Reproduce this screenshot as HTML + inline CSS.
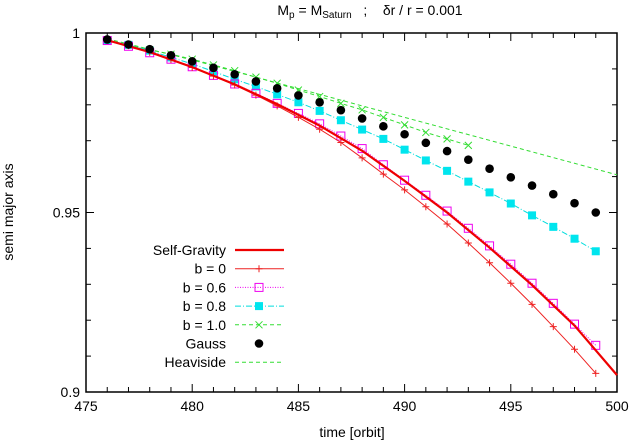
<!DOCTYPE html>
<html><head><meta charset="utf-8"><style>
body{margin:0;background:#fff;}
svg{display:block;font-family:"Liberation Sans",sans-serif;}
</style></head><body>
<svg id="chart" width="634" height="444">
<text x="370" y="15" text-anchor="middle" font-size="14" xml:space="preserve">M<tspan font-size="10" dy="3">p</tspan><tspan dy="-3"> = M</tspan><tspan font-size="10" dy="3">Saturn</tspan><tspan dy="-3">   ;    δr / r = 0.001</tspan></text>
<text transform="translate(13,212) rotate(-90)" text-anchor="middle" font-size="14">semi major axis</text>
<text x="352" y="437" text-anchor="middle" font-size="14">time [orbit]</text>
<g id="axes"></g>
<g id="series"></g>
<g id="legend"></g>
</svg>
<script>
const times=[476,477,478,479,480,481,482,483,484,485,486,487,488,489,490,491,492,493,494,495,496,497,498,499];
const gaussVals=[.9982,.9968,.9955,.9938,.9921,.9903,.9885,.9865,.9846,.9826,.9807,.9785,.9762,.974,.9718,.9694,.9671,.9647,.9622,.9598,.9575,.9551,.9526,.95];
const b08Vals=[.998,.9967,.9951,.9932,.9914,.9893,.9871,.9851,.9829,.9807,.9783,.9757,.9731,.9705,.9675,.9645,.9616,.9586,.9556,.9525,.9492,.946,.9427,.9392];
const b10Times=[476,477,478,479,480,481,482,483,484,485,486,487,488,489,490,491,492,493];
const b10Vals=[.998,.9967,.9953,.9941,.9927,.9911,.9895,.9877,.986,.9841,.9823,.9804,.9786,.9765,.9744,.9723,.9705,.9687];
const b06Vals=[.9979,.9963,.9945,.9927,.9906,.9882,.9858,.9832,.9804,.9776,.9747,.9713,.9678,.9633,.959,.9548,.9504,.9456,.9407,.9356,.9303,.9247,.9189,.913];
const b0Vals=[.998,.9965,.9946,.9926,.9904,.988,.9855,.9827,.9797,.9765,.9732,.9695,.9652,.9607,.9563,.9516,.9468,.9415,.936,.9303,.9244,.9182,.9119,.9052];
const sgTimes=[476,478,480,482,484,486,488,490,492,494,496,498,500];
const sgVals=[.998,.9947,.9905,.9857,.9802,.9742,.9672,.9588,.9500,.9402,.9298,.9185,.9047];
const hvTimes=[476,480,485,490,495,500];
const hvVals=[.9984,.9925,.9845,.9765,.9685,.9605];
const xTicks=[475,480,485,490,495,500];
const yTicks=[0.9,0.95,1];
const yTickLabels=["0.9","0.95","1"];

const L=86,R=617,T=33,B=392;
const X=t=>L+(t-475)/25*(R-L);
const Y=v=>T+(1-v)/0.1*(B-T);
const NS="http://www.w3.org/2000/svg";
function mk(tag,attrs,parent){const e=document.createElementNS(NS,tag);for(const k in attrs)e.setAttribute(k,attrs[k]);parent.appendChild(e);return e;}
const ax=document.getElementById('axes'),sr=document.getElementById('series'),lg=document.getElementById('legend');
const frame=mk('rect',{x:L,y:T,width:R-L,height:B-T,fill:'none',stroke:'#000','stroke-width':1.5},ax);


for(let t=475;t<=500;t++){const big=t%5===0?8:5;mk('line',{x1:X(t),x2:X(t),y1:B,y2:B-big,stroke:'#000'},ax);mk('line',{x1:X(t),x2:X(t),y1:T,y2:T+big,stroke:'#000'},ax);}
for(let i=0;i<=10;i++){const v=0.9+i*0.01;const big=i%5===0?8:5;mk('line',{x1:L,x2:L+big,y1:Y(v),y2:Y(v),stroke:'#000'},ax);mk('line',{x1:R,x2:R-big,y1:Y(v),y2:Y(v),stroke:'#000'},ax);}
xTicks.forEach(t=>{const e=mk('text',{x:X(t),y:B+19,'text-anchor':'middle','font-size':14},ax);e.textContent=t;

});
yTicks.forEach((v,i)=>{const e=mk('text',{x:L-6,y:Y(v)+5,'text-anchor':'end','font-size':14},ax);e.textContent=yTickLabels[i];

});

function line(ts,vs,color,w,dash,name){const p=mk('polyline',{points:ts.map((t,i)=>X(t)+','+Y(vs[i])).join(' '),fill:'none',stroke:color,'stroke-width':w,'stroke-dasharray':dash||'none'},sr);

}
function marker(type,x,y,color,parent){
 if(type==='plus'){mk('path',{d:`M${x-3.5},${y}H${x+3.5}M${x},${y-3.5}V${y+3.5}`,stroke:color,'stroke-width':1},parent);}
 else if(type==='osq'){mk('rect',{x:x-4,y:y-4,width:8,height:8,fill:'none',stroke:color,'stroke-width':1},parent);}
 else if(type==='fsq'){mk('rect',{x:x-4,y:y-4,width:8,height:8,fill:color},parent);}
 else if(type==='x'){mk('path',{d:`M${x-3.5},${y-3.5}L${x+3.5},${y+3.5}M${x-3.5},${y+3.5}L${x+3.5},${y-3.5}`,stroke:color,'stroke-width':1},parent);}
 else if(type==='dot'){mk('circle',{cx:x,cy:y,r:4.3,fill:color},parent);}
}
function points(ts,vs,type,color,name){const g=mk('g',{},sr);


ts.forEach((t,i)=>marker(type,X(t),Y(vs[i]),color,g));}

line(hvTimes,hvVals,'#33dd33',1,'4,3','heaviside-line');
line(b10Times,b10Vals,'#33dd33',1,'4,3','b1.0-line');
points(b10Times,b10Vals,'x','#33dd33','b1.0-points');
line(times,b08Vals,'#00dddd',1,'6,2,1,2','b0.8-line');
points(times,b08Vals,'fsq','#00e5ee','b0.8-points');
line(times,b06Vals,'#ee00ee',1,'1,1.5','b0.6-line');
points(times,b06Vals,'osq','#ee00ee','b0.6-points');
line(times,b0Vals,'#ee2222',1,null,'b0-line');
points(times,b0Vals,'plus','#ee2222','b0-points');
line(sgTimes,sgVals,'#ee0000',2.2,null,'self-gravity-line');
points(times,gaussVals,'dot','#000','gauss-points');

const leg=[['Self-Gravity','#ee0000',2.2,null,null],['b = 0','#ee2222',1,null,'plus'],['b = 0.6','#ee00ee',1,'1,1.5','osq'],['b = 0.8','#00dddd',1,'6,2,1,2','fsq'],['b = 1.0','#33dd33',1,'4,3','x'],['Gauss',null,0,null,'dot'],['Heaviside','#33dd33',1,'4,3',null]];
leg.forEach((e,i)=>{const y=250+i*18.7;const g=mk('g',{},lg);


const t=mk('text',{x:226,y:y+5,'text-anchor':'end','font-size':14},g);t.textContent=e[0];
if(e[1])mk('line',{x1:235,x2:284,y1:y,y2:y,stroke:e[1],'stroke-width':e[2],'stroke-dasharray':e[3]||'none'},g);
if(e[4])marker(e[4],259,y,e[4]==='dot'?'#000':(e[4]==='fsq'?'#00e5ee':e[1]),g);});
</script>
</body></html>
